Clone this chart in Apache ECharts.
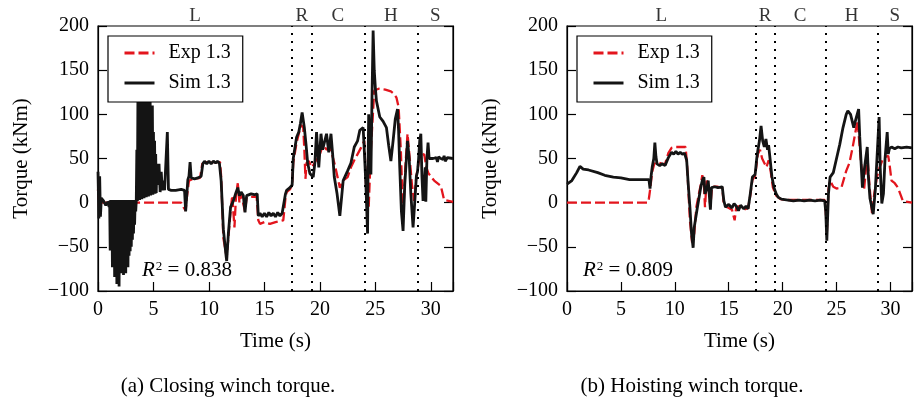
<!DOCTYPE html>
<html><head><meta charset="utf-8">
<script src="https://cdn.jsdelivr.net/npm/echarts@6/dist/echarts.min.js"></script>
<style>html,body{margin:0;padding:0;background:#fff}#c{width:915px;height:402px}</style>
</head><body><div id="c"></div><script>
// ---------- data ----------
const closingExp = [[0,15],[0.1,-5],[0.2,-8],[0.35,0],[1.0,0],[3,0],[5,0],[7.5,0],[7.6,-3],[7.9,-9],[8.0,5],[8.2,25],[8.4,26],[9.2,28],[9.4,44],[9.6,46],[10.4,46],[11.0,46],[11.1,30],[11.3,-40],[11.6,-62],[11.75,-40],[11.95,-10],[12.1,8],[12.3,-28],[12.45,10],[12.6,22],[12.75,0],[12.9,10],[13.25,-10],[13.4,6],[14.3,7],[14.45,-20],[14.6,-24],[15.0,-22],[15.5,-24],[16.0,-22],[16.7,-20],[16.9,5],[17.0,12],[17.3,15],[17.5,20],[17.6,45],[17.9,68],[18.3,88],[18.5,85],[18.6,60],[18.7,27],[18.8,45],[19.0,47],[19.3,40],[19.6,47],[19.8,50],[20.0,55],[20.3,66],[20.6,60],[20.9,62],[21.2,50],[21.4,40],[21.8,17],[22.1,25],[22.5,29],[22.8,40],[23.1,48],[23.4,55],[23.7,62],[24.0,70],[24.1,40],[24.2,5],[24.4,-5],[24.6,60],[24.9,127],[25.3,129],[25.9,128],[26.4,126],[26.7,123],[26.9,119],[27.1,108],[27.3,59],[27.5,-17],[27.7,40],[27.9,78],[28.1,50],[28.3,20],[28.5,2],[28.7,30],[29.0,52],[29.4,55],[29.6,40],[29.8,33],[30.3,25],[30.9,19],[31.2,3],[32,1]];

const closingSim = [[0,35],[0.08,-18],[0.15,30],[0.22,-16],[0.3,5],[0.5,2],[0.7,-3],[0.9,1],
[1.0,-5],[1.05,2],[1.1,-54],[1.15,3],[1.2,-40],[1.25,2],[1.3,-73],[1.35,3],[1.4,-60],[1.45,2],[1.5,-84],[1.55,3],[1.6,-70],[1.65,2],[1.7,-92],[1.75,3],[1.8,-85],[1.85,2],[1.9,-95],[1.95,3],[2.0,-78],[2.05,2],[2.1,-80],[2.15,3],[2.2,-75],[2.25,2],[2.3,-82],[2.35,3],[2.4,-70],[2.45,2],[2.5,-80],[2.55,3],[2.6,-68],[2.65,2],[2.7,-73],[2.75,3],[2.8,-60],[2.85,2],[2.9,-55],[2.95,3],[3.0,-50],[3.05,2],[3.1,-42],[3.15,3],[3.2,-35],[3.25,2],[3.3,-25],[3.35,3],[3.4,-10],
[3.45,2],[3.5,60],[3.55,2],[3.6,125],[3.65,3],[3.7,130],[3.75,3],[3.8,118],[3.85,4],[3.9,130],[3.95,4],[4.0,122],[4.05,5],[4.1,130],[4.15,5],[4.2,115],[4.25,6],[4.3,128],[4.35,6],[4.4,112],[4.45,7],[4.5,125],[4.55,7],[4.6,105],[4.65,8],[4.7,118],[4.75,8],[4.8,98],[4.85,9],[4.9,110],[4.95,9],[5.0,80],[5.05,10],[5.1,70],[5.15,10],[5.2,55],[5.25,11],[5.3,44],
[5.4,20],[5.5,44],[5.6,12],[5.7,35],[5.8,14],[5.9,25],[6.0,14],[6.15,15],[6.25,80],[6.35,15],[6.6,14],[7.0,14],[7.5,15],[7.8,14],[7.9,-10],[8.0,8],[8.1,26],[8.2,30],[8.3,46],[8.4,28],[8.7,27],[9.0,28],[9.3,30],[9.45,44],[9.6,47],[9.8,44],[10.0,47],[10.2,44],[10.4,47],[10.6,45],[10.8,47],[10.95,44],[11.1,25],[11.3,-30],[11.5,-55],[11.6,-66],[11.75,-35],[11.95,-5],[12.2,2],[12.4,10],[12.6,17],[12.75,8],[12.9,12],[13.1,8],[13.25,-11],[13.4,8],[13.8,10],[14.1,9],[14.35,10],[14.45,-15],[14.6,-12],[14.8,-16],[15.0,-12],[15.2,-16],[15.4,-11],[15.6,-15],[15.8,-12],[16.0,-16],[16.2,-11],[16.4,-15],[16.6,-12],[16.75,-10],[16.9,10],[17.0,14],[17.3,17],[17.5,20],[17.6,50],[17.9,74],[18.1,80],[18.25,90],[18.4,102],[18.6,85],[18.75,66],[18.9,45],[19.1,33],[19.4,29],[19.55,45],[19.7,80],[19.9,40],[20.1,78],[20.25,60],[20.4,59],[20.6,78],[20.8,57],[21.0,78],[21.15,55],[21.3,29],[21.55,10],[21.8,-15],[22.1,25],[22.5,36],[22.8,45],[23.1,63],[23.4,70],[23.6,82],[23.9,85],[24.0,60],[24.15,20],[24.3,-35],[24.35,50],[24.4,100],[24.5,70],[24.6,32],[24.7,120],[24.8,195],[24.9,150],[25.0,130],[25.1,115],[25.4,97],[25.7,92],[26.0,85],[26.2,65],[26.4,47],[26.6,70],[26.8,95],[27.0,106],[27.1,80],[27.2,40],[27.35,-10],[27.5,-32],[27.65,20],[27.9,70],[28.05,50],[28.2,10],[28.4,-28],[28.55,0],[28.7,30],[28.8,35],[28.9,50],[29.0,70],[29.1,78],[29.2,30],[29.3,2],[29.45,3],[29.5,40],[29.55,1],[29.65,50],[29.75,68],[29.85,50],[30.2,50],[30.5,51],[30.6,46],[30.7,52],[30.9,50],[31.1,49],[31.2,53],[31.3,47],[31.5,51],[32,50]];

const hoistingExp = [[0,0],[7.5,0],[7.6,5],[7.7,14],[7.9,35],[8.1,44],[8.4,46],[8.8,44],[9.1,44],[9.4,56],[9.7,62],[10.0,63],[10.5,63],[11.0,63],[11.15,40],[11.4,-20],[11.6,-45],[11.8,-35],[12.0,-5],[12.2,8],[12.4,20],[12.55,31],[12.7,20],[12.8,-5],[12.95,25],[13.1,20],[13.3,-5],[13.45,18],[14.0,18],[14.4,17],[14.55,-3],[15.0,-6],[15.3,-8],[15.55,-20],[15.7,-5],[16.0,-4],[16.4,-8],[16.8,-6],[17.0,8],[17.2,26],[17.45,30],[17.7,55],[17.9,60],[18.1,50],[18.3,45],[18.5,40],[18.7,48],[18.9,35],[19.1,17],[19.4,8],[19.8,4],[20.5,3],[22,3],[23.9,3],[24.0,-10],[24.1,-35],[24.25,15],[24.4,25],[24.7,18],[25.0,16],[25.45,17],[25.9,36],[26.2,45],[26.5,63],[26.95,93],[27.1,70],[27.25,48],[27.55,14],[27.85,55],[28.05,20],[28.3,-13],[28.5,10],[28.75,29],[29.0,40],[29.35,51],[29.8,53],[29.95,40],[30.1,25],[30.4,22],[30.7,17],[31.15,2],[32,0]];

const hoistingSim = [[0,21],[0.45,25],[0.9,34],[1.2,41],[1.5,38],[2.0,37],[2.85,34],[3.5,31],[4.3,29],[5.0,28],[5.8,26],[6.5,26],[7.0,26],[7.6,26],[7.7,16],[7.8,30],[7.9,40],[8.05,50],[8.15,68],[8.25,52],[8.35,44],[8.6,42],[8.8,44],[9.1,42],[9.4,51],[9.7,57],[9.9,55],[10.1,58],[10.3,55],[10.5,57],[10.7,55],[10.9,56],[11.1,48],[11.25,20],[11.4,-5],[11.55,-35],[11.7,-51],[11.8,-28],[12.1,-5],[12.4,17],[12.55,25],[12.7,29],[12.8,10],[13.0,17],[13.1,25],[13.3,-8],[13.4,17],[13.7,18],[14.0,17],[14.4,18],[14.55,2],[14.7,-5],[15.0,-2],[15.3,-6],[15.5,-1],[15.7,-4],[15.9,-9],[16.1,-3],[16.4,-7],[16.6,-4],[16.8,-7],[17.0,10],[17.2,29],[17.45,32],[17.6,50],[17.7,59],[17.85,70],[18.0,87],[18.15,70],[18.3,63],[18.45,72],[18.6,60],[18.7,65],[18.85,48],[19.0,30],[19.2,17],[19.4,10],[19.6,6],[19.9,4],[20.5,3],[21.0,2],[21.5,3],[22.0,2],[22.5,3],[23.0,2],[23.5,3],[23.9,2],[24.0,-10],[24.1,-43],[24.25,10],[24.4,29],[24.7,34],[25.0,50],[25.3,66],[25.6,85],[25.9,100],[26.05,104],[26.3,100],[26.6,85],[26.8,95],[27.05,106],[27.15,75],[27.4,17],[27.6,40],[27.85,63],[27.95,30],[28.1,5],[28.4,-13],[28.6,15],[28.75,50],[28.95,97],[29.05,40],[29.2,-1],[29.35,10],[29.5,50],[29.7,80],[29.8,55],[29.9,61],[30.1,63],[30.4,61],[30.7,63],[31.0,62],[31.5,63],[32,62]];

const phaseBounds = [17.5, 19.25, 24.0, 28.8];
const phaseNames = ['L', 'R', 'C', 'H', 'S'];
const timeRange = [0, 32];
const torqueRange = [-100, 200];
const seriesNames = ['Exp 1.3', 'Sim 1.3'];
const rSquared = ['0.838', '0.809'];
const captions = ['(a) Closing winch torque.', '(b) Hoisting winch torque.'];

// ---------- chart ----------
const FONT = 'Liberation Serif';
const RED = '#e3151d', BLACK = '#141414';
const chart = echarts.init(document.getElementById('c'), null, {renderer: 'canvas'});

const edges = [timeRange[0]].concat(phaseBounds, [timeRange[1]]);
const phaseMid = phaseNames.map((n, i) => ({name: n, value: [(edges[i] + edges[i + 1]) / 2, torqueRange[1]]}));

const grids = [
  {left: 98, top: 26, width: 355, height: 265},
  {left: 567, top: 26, width: 355, height: 265}
];
const axisLineStyle = {color: '#000', width: 1.2};
const xAxes = [], yAxes = [];
[0, 1].forEach(i => {
  xAxes.push({
    type: 'value', gridIndex: i, min: timeRange[0], max: timeRange[1], interval: 5,
    axisLine: {show: true, onZero: false, lineStyle: axisLineStyle},
    axisTick: {show: true, inside: true, length: 9, lineStyle: axisLineStyle},
    axisLabel: {show: true, color: '#000', fontFamily: FONT, fontSize: 20, margin: 9,
      formatter: v => (v % 5 === 0 ? String(v) : '')},
    splitLine: {show: false},
    name: 'Time (s)', nameLocation: 'middle', nameGap: 40,
    nameTextStyle: {color: '#000', fontFamily: FONT, fontSize: 21}
  });
  yAxes.push({
    type: 'value', gridIndex: i, min: torqueRange[0], max: torqueRange[1], interval: 50, position: 'left',
    axisLine: {show: true, onZero: false, lineStyle: axisLineStyle},
    axisTick: {show: true, inside: true, length: 9, lineStyle: axisLineStyle},
    axisLabel: {show: true, color: '#000', fontFamily: FONT, fontSize: 20, margin: 9,
      formatter: v => (v < 0 ? '\u2212' + Math.abs(v) : String(v))},
    splitLine: {show: false},
    name: 'Torque (kNm)', nameLocation: 'middle', nameGap: 66,
    nameTextStyle: {color: '#000', fontFamily: FONT, fontSize: 21}
  });
  yAxes.push({
    type: 'value', gridIndex: i, min: torqueRange[0], max: torqueRange[1], interval: 50, position: 'right',
    axisLine: {show: true, onZero: false, lineStyle: axisLineStyle},
    axisTick: {show: true, inside: true, length: 9, lineStyle: axisLineStyle},
    axisLabel: {show: false}, splitLine: {show: false}
  });
});

const datasets = [[closingExp, closingSim], [hoistingExp, hoistingSim]];
const series = [];
[0, 1].forEach(i => {
  series.push({
    name: seriesNames[0], type: 'line', xAxisIndex: i, yAxisIndex: i * 2,
    data: datasets[i][0], showSymbol: false, symbol: 'none', animation: false,
    lineStyle: {color: RED, width: 2.3, type: [10, 4]}, itemStyle: {color: RED}, z: 2
  });
  series.push({
    name: seriesNames[1], type: 'line', xAxisIndex: i, yAxisIndex: i * 2,
    data: datasets[i][1], showSymbol: false, symbol: 'none', animation: false,
    lineStyle: {color: BLACK, width: 2.8}, itemStyle: {color: BLACK}, z: 3,
    markLine: {
      silent: true, symbol: ['none', 'none'], animation: false, label: {show: false},
      lineStyle: {color: '#000', type: [2, 6], width: 2},
      data: phaseBounds.map(b => ({xAxis: b}))
    }
  });
  series.push({
    type: 'scatter', xAxisIndex: i, yAxisIndex: i * 2, data: phaseMid,
    symbolSize: 0, clip: false, silent: true, animation: false,
    label: {show: true, position: 'top', distance: 0, formatter: p => p.name,
      color: '#000', fontFamily: FONT, fontSize: 19}
  });
});

const legendCommon = {
  orient: 'vertical', top: 36, itemWidth: 30, itemHeight: 14, itemGap: 10,
  data: [
    {name: seriesNames[0], itemStyle: {opacity: 0}, lineStyle: {color: RED, width: 3, type: [10, 4]}},
    {name: seriesNames[1], itemStyle: {opacity: 0}, lineStyle: {color: BLACK, width: 3}}
  ],
  itemStyle: {opacity: 0},
  padding: [7, 12, 9, 15], backgroundColor: '#fff', borderColor: '#000', borderWidth: 1.2,
  textStyle: {color: '#000', fontFamily: FONT, fontSize: 20, padding: [0, 0, 0, 9]},
  selectedMode: false, z: 10
};

const rText = (x, r) => ({
  type: 'text', left: x, top: 260, z: 10,
  style: {
    text: '{i|R}{s|2}{n| = ' + r + '}',
    rich: {
      i: {fontFamily: FONT, fontSize: 21, fontStyle: 'italic', fill: '#000'},
      s: {fontFamily: FONT, fontSize: 13, fill: '#000', verticalAlign: 'top', padding: [0, 0, 8, 1]},
      n: {fontFamily: FONT, fontSize: 21, fill: '#000'}
    }
  }
});
const capText = (cx, t) => ({
  type: 'text', x: cx, y: 386, z: 10,
  style: {text: t, fill: '#000', font: '21px "' + FONT + '"', align: 'center', verticalAlign: 'middle'}
});

chart.setOption({
  animation: false,
  backgroundColor: '#fff',
  grid: grids.map(g => Object.assign({show: true, borderColor: '#000', borderWidth: 1.2, backgroundColor: 'transparent'}, g)),
  xAxis: xAxes,
  yAxis: yAxes,
  legend: [Object.assign({left: 108}, legendCommon), Object.assign({left: 577}, legendCommon)],
  series: series,
  graphic: [rText(142, rSquared[0]), rText(583, rSquared[1]), capText(228, captions[0]), capText(692, captions[1])]
});
</script></body></html>
